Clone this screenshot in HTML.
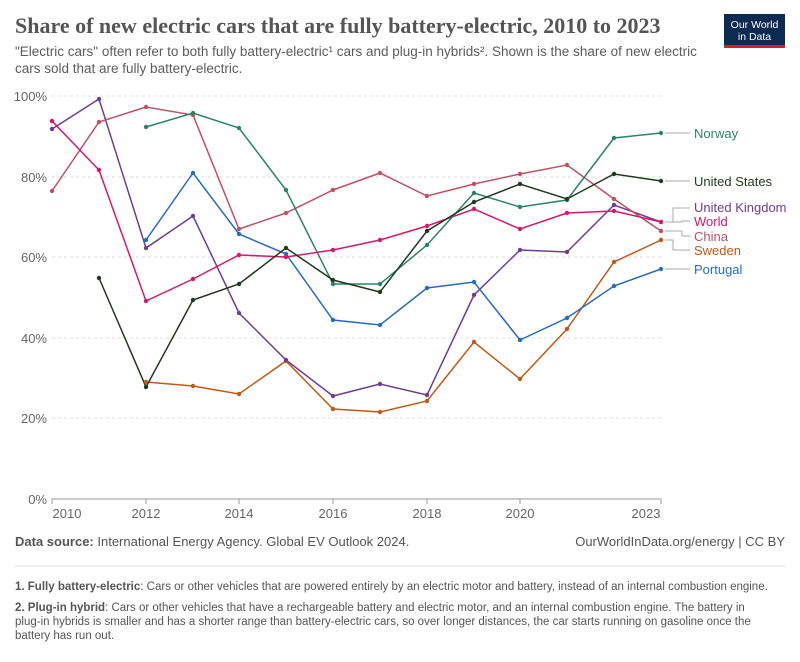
<!DOCTYPE html>
<html><head><meta charset="utf-8"><style>
body{margin:0;background:#fff;width:800px;height:657px;overflow:hidden;font-family:"Liberation Sans",sans-serif;}
</style></head><body>
<svg id="s" width="800" height="657" xmlns="http://www.w3.org/2000/svg" font-family="Liberation Sans, sans-serif">
<text x="15" y="33" font-family="Liberation Serif, serif" font-size="22" fill="#555" font-weight="bold">Share of new electric cars that are fully battery-electric, 2010 to 2023</text>
<text x="15" y="56" font-size="13.5" fill="#5b5b5b">"Electric cars" often refer to both fully battery-electric¹ cars and plug-in hybrids². Shown is the share of new electric</text>
<text x="15" y="73" font-size="13.5" fill="#5b5b5b">cars sold that are fully battery-electric.</text>
<rect x="724" y="14" width="61" height="34" fill="#0c2a52"/>
<rect x="724" y="45" width="61" height="3" fill="#ce261e"/>
<text x="754.5" y="28" font-size="10.5" fill="#fff" text-anchor="middle">Our World</text>
<text x="754.5" y="40" font-size="10.5" fill="#fff" text-anchor="middle">in Data</text>
<g stroke="#ddd" stroke-dasharray="3,3" stroke-width="1">
<line x1="52" y1="96" x2="661" y2="96"/><line x1="52" y1="177" x2="661" y2="177"/><line x1="52" y1="257" x2="661" y2="257"/><line x1="52" y1="338" x2="661" y2="338"/><line x1="52" y1="418" x2="661" y2="418"/>
</g>
<line x1="52" y1="499" x2="661" y2="499" stroke="#999"/>
<g font-size="13" fill="#666" text-anchor="end">
<text x="47" y="101">100%</text><text x="47" y="182">80%</text><text x="47" y="262">60%</text><text x="47" y="343">40%</text><text x="47" y="423">20%</text><text x="47" y="504">0%</text>
</g>
<g font-size="13" fill="#666" text-anchor="middle">
<text x="67" y="518">2010</text><text x="146" y="518">2012</text><text x="239" y="518">2014</text><text x="333" y="518">2016</text><text x="427" y="518">2018</text><text x="520" y="518">2020</text><text x="646" y="518">2023</text>
</g>
<g stroke="#999"><line x1="146" y1="499" x2="146" y2="504"/><line x1="239" y1="499" x2="239" y2="504"/><line x1="333" y1="499" x2="333" y2="504"/><line x1="427" y1="499" x2="427" y2="504"/><line x1="520" y1="499" x2="520" y2="504"/><line x1="661" y1="499" x2="661" y2="504"/><line x1="52" y1="499" x2="52" y2="504"/></g>
<g id="lines" fill="none" stroke-width="1.5">
<polyline stroke="#c05917" points="146,382 193,386 239,394 286,361 333,409 380,412 427,401 474,342 520,379 567,329 614,262 661,240"/>
<polyline stroke="#6d3e91" points="52,129 99,99 146,248 193,216 239,313 286,360 333,396 380,384 427,395 474,295 520,250 567,252 614,205 661,222"/>
<polyline stroke="#286bbb" points="146,240 193,173 239,234 286,254 333,320 380,325 427,288 474,282 520,340 567,318 614,286 661,269"/>
<polyline stroke="#c15065" points="52,191 99,122 146,107 193,115 239,229 286,213 333,190 380,173 427,196 474,184 520,174 567,165 614,199 661,231"/>
<polyline stroke="#d6176b" points="52,121 99,170 146,301 193,279 239,255 286,257 333,250 380,240 427,226 474,209 520,229 567,213 614,211 661,222"/>
<polyline stroke="#2c8465" points="146,127 193,113 239,128 286,190 333,284 380,284 427,245 474,193 520,207 567,200 614,138 661,133"/>
<polyline stroke="#1e3b1c" points="99,278 146,387 193,300 239,284 286,248 333,280 380,292 427,231 474,202 520,184 567,199 614,174 661,181"/>
</g>
<g id="dots"></g>
<g stroke="#aaa" fill="none">
<line x1="665" y1="133" x2="690" y2="133"/><line x1="665" y1="181" x2="690" y2="181"/><line x1="665" y1="269" x2="690" y2="269"/>
<polyline points="665,222 673,222 673,208 690,208"/><polyline points="665,222 682,222 682,221 690,221"/>
<polyline points="665,231 682,231 682,236 690,236"/><polyline points="665,240 673,240 673,250 690,250"/>
</g>
<g font-size="13">
<text x="694" y="138" fill="#2c8465">Norway</text>
<text x="694" y="186" fill="#1e3b1c">United States</text>
<text x="694" y="212" fill="#6d3e91">United Kingdom</text>
<text x="694" y="226" fill="#d6176b">World</text>
<text x="694" y="241" fill="#c15065">China</text>
<text x="694" y="255" fill="#c05917">Sweden</text>
<text x="694" y="274" fill="#286bbb">Portugal</text>
</g>
<text x="15" y="546" font-size="13" fill="#555"><tspan font-weight="bold">Data source:</tspan> International Energy Agency. Global EV Outlook 2024.</text>
<text x="785" y="546" font-size="13" fill="#555" text-anchor="end">OurWorldInData.org/energy | CC BY</text>
<line x1="15" y1="566" x2="785" y2="566" stroke="#ddd"/>
<g font-size="11.5" fill="#555">
<text x="15" y="590"><tspan font-weight="bold">1. Fully battery-electric</tspan>: Cars or other vehicles that are powered entirely by an electric motor and battery, instead of an internal combustion engine.</text>
<text x="15" y="611"><tspan font-weight="bold">2. Plug-in hybrid</tspan>: Cars or other vehicles that have a rechargeable battery and electric motor, and an internal combustion engine. The battery in</text>
<text x="15" y="625">plug-in hybrids is smaller and has a shorter range than battery-electric cars, so over longer distances, the car starts running on gasoline once the</text>
<text x="15" y="639">battery has run out.</text>
</g>
</svg>
<script>
var ns="http://www.w3.org/2000/svg",d=document.getElementById("dots");
document.querySelectorAll("#lines polyline").forEach(function(p){
var c=p.getAttribute("stroke");
p.getAttribute("points").trim().split(/\s+/).forEach(function(pt){
var a=pt.split(","),e=document.createElementNS(ns,"circle");
e.setAttribute("cx",a[0]);e.setAttribute("cy",a[1]);e.setAttribute("r","2.2");e.setAttribute("fill",c);d.appendChild(e);});});
</script>
</body></html>
